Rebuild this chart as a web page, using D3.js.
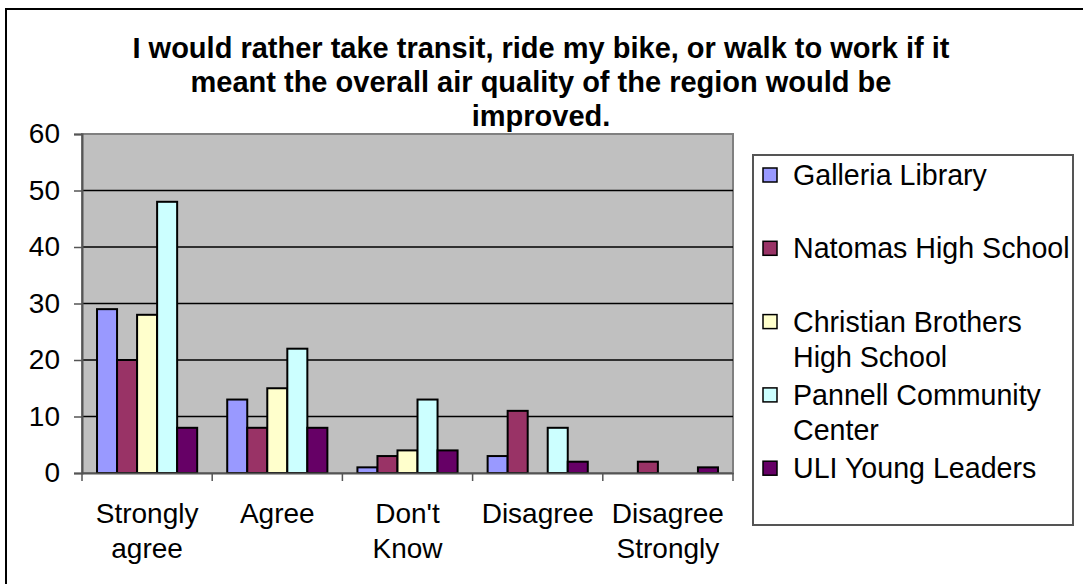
<!DOCTYPE html>
<html>
<head>
<meta charset="utf-8">
<script src="https://cdn.jsdelivr.net/npm/d3@7"></script>
<style>
  html, body { margin: 0; padding: 0; background: #fff; overflow: hidden; }
  svg { display: block; font-family: "Liberation Sans", Arial, sans-serif; }
</style>
</head>
<body>
<svg id="chart" width="1083" height="584"></svg>
<script>
const titleLines = [
  "I would rather take transit, ride my bike, or walk to work if it",
  "meant the overall air quality of the region would be",
  "improved."
];
const categories = ["Strongly agree", "Agree", "Don't Know", "Disagree", "Disagree Strongly"];
const categoryLines = [["Strongly", "agree"], ["Agree"], ["Don't", "Know"], ["Disagree"], ["Disagree", "Strongly"]];
const seriesNames = ["Galleria Library", "Natomas High School", "Christian Brothers High School", "Pannell Community Center", "ULI Young Leaders"];
const legendLines = [["Galleria Library"], ["Natomas High School"], ["Christian Brothers", "High School"], ["Pannell Community", "Center"], ["ULI Young Leaders"]];
const galleria  = [29, 13, 1, 3, 0];
const natomas   = [20, 8, 3, 11, 2];
const christian = [28, 15, 4, 0, 0];
const pannell   = [48, 22, 13, 8, 0];
const uli       = [8, 8, 4, 2, 1];
const seriesValues = [galleria, natomas, christian, pannell, uli];
const colors = ["#9999FF", "#993366", "#FFFFCC", "#CCFFFF", "#660066"];
const yTicks = [0, 10, 20, 30, 40, 50, 60];

const svg = d3.select("#chart");
const plot = { left: 82, right: 733, top: 134, bottom: 473 };

// outer chart border
svg.append("rect").attr("x", 6).attr("y", 9).attr("width", 1200).attr("height", 700)
  .attr("fill", "#fff").attr("stroke", "#000").attr("stroke-width", 2);

// title
svg.append("g").selectAll("text").data(titleLines).join("text")
  .attr("x", 541).attr("y", (d, i) => 58 + i * 34)
  .attr("text-anchor", "middle")
  .attr("font-size", 29).attr("font-weight", "bold").attr("fill", "#000")
  .text(d => d);

const x0 = d3.scaleBand().domain(categories).range([plot.left, plot.right]);
const x1 = d3.scaleBand().domain(seriesNames).range([0, x0.bandwidth()]).paddingOuter(0.75);
const y = d3.scaleLinear().domain([0, 60]).range([plot.bottom, plot.top]);

// plot background
svg.append("rect").attr("x", plot.left).attr("y", plot.top)
  .attr("width", plot.right - plot.left).attr("height", plot.bottom - plot.top)
  .attr("fill", "#C0C0C0").attr("stroke", "#808080").attr("stroke-width", 2);

// gridlines
svg.append("g").selectAll("line").data(yTicks.filter(t => t > 0 && t < 60)).join("line")
  .attr("x1", plot.left).attr("x2", plot.right)
  .attr("y1", d => y(d)).attr("y2", d => y(d))
  .attr("stroke", "#000").attr("stroke-width", 1.3);

// bars
const groups = svg.append("g").selectAll("g").data(seriesNames).join("g")
  .attr("fill", (d, i) => colors[i]);
groups.selectAll("rect").data((s, si) => categories.map((c, ci) => ({ c, s, v: seriesValues[si][ci] })))
  .join("rect")
  .filter(d => d.v > 0)
  .attr("x", d => x0(d.c) + x1(d.s))
  .attr("y", d => y(d.v))
  .attr("width", x1.bandwidth())
  .attr("height", d => y(0) - y(d.v))
  .attr("stroke", "#000").attr("stroke-width", 2);

// y axis
const yAxis = svg.append("g").attr("transform", `translate(${plot.left},0)`)
  .call(d3.axisLeft(y).tickValues(yTicks).tickSize(8).tickPadding(14).tickFormat(d3.format("d")));
yAxis.select(".domain").attr("stroke", "#555").attr("stroke-width", 2);
yAxis.selectAll(".tick line").attr("stroke", "#555").attr("stroke-width", 1.5);
yAxis.selectAll("text").attr("font-size", 28).attr("fill", "#000")
  .attr("font-family", "Liberation Sans, Arial, sans-serif");

// x axis
const xAxis = svg.append("g").attr("transform", `translate(0,${plot.bottom})`)
  .call(d3.axisBottom(x0).tickSize(0).tickFormat(""));
xAxis.select(".domain").attr("stroke", "#555").attr("stroke-width", 2);
const boundaries = categories.map(c => x0(c)).concat([x0.range()[1]]);
xAxis.selectAll(".sep").data(boundaries).join("line").attr("class", "sep")
  .attr("x1", d => d).attr("x2", d => d).attr("y1", 0).attr("y2", 8)
  .attr("stroke", "#555").attr("stroke-width", 1.5);
xAxis.selectAll(".cat").data(categories).join("text").attr("class", "cat")
  .attr("x", d => x0(d) + x0.bandwidth() / 2)
  .attr("text-anchor", "middle").attr("font-size", 28).attr("fill", "#000")
  .each(function (d, i) {
    d3.select(this).selectAll("tspan").data(categoryLines[i]).join("tspan")
      .attr("x", x0(d) + x0.bandwidth() / 2)
      .attr("y", (t, j) => 50 + j * 35)
      .text(t => t);
  });

// legend
const legend = svg.append("g");
legend.append("rect").attr("x", 753).attr("y", 155).attr("width", 320).attr("height", 370)
  .attr("fill", "#fff").attr("stroke", "#555").attr("stroke-width", 2);
const items = legend.selectAll("g.item").data(seriesNames).join("g").attr("class", "item")
  .attr("transform", (d, i) => `translate(0,${175 + i * 73.3})`);
items.append("rect").attr("x", 763).attr("y", -7).attr("width", 14).attr("height", 14)
  .attr("fill", (d, i) => colors[i]).attr("stroke", "#000").attr("stroke-width", 1.5);
items.append("text").attr("font-size", 28.6).attr("fill", "#000")
  .each(function (d, i) {
    d3.select(this).selectAll("tspan").data(legendLines[i]).join("tspan")
      .attr("x", 793).attr("y", (t, j) => 10 + j * 35)
      .text(t => t);
  });
</script>
</body>
</html>
